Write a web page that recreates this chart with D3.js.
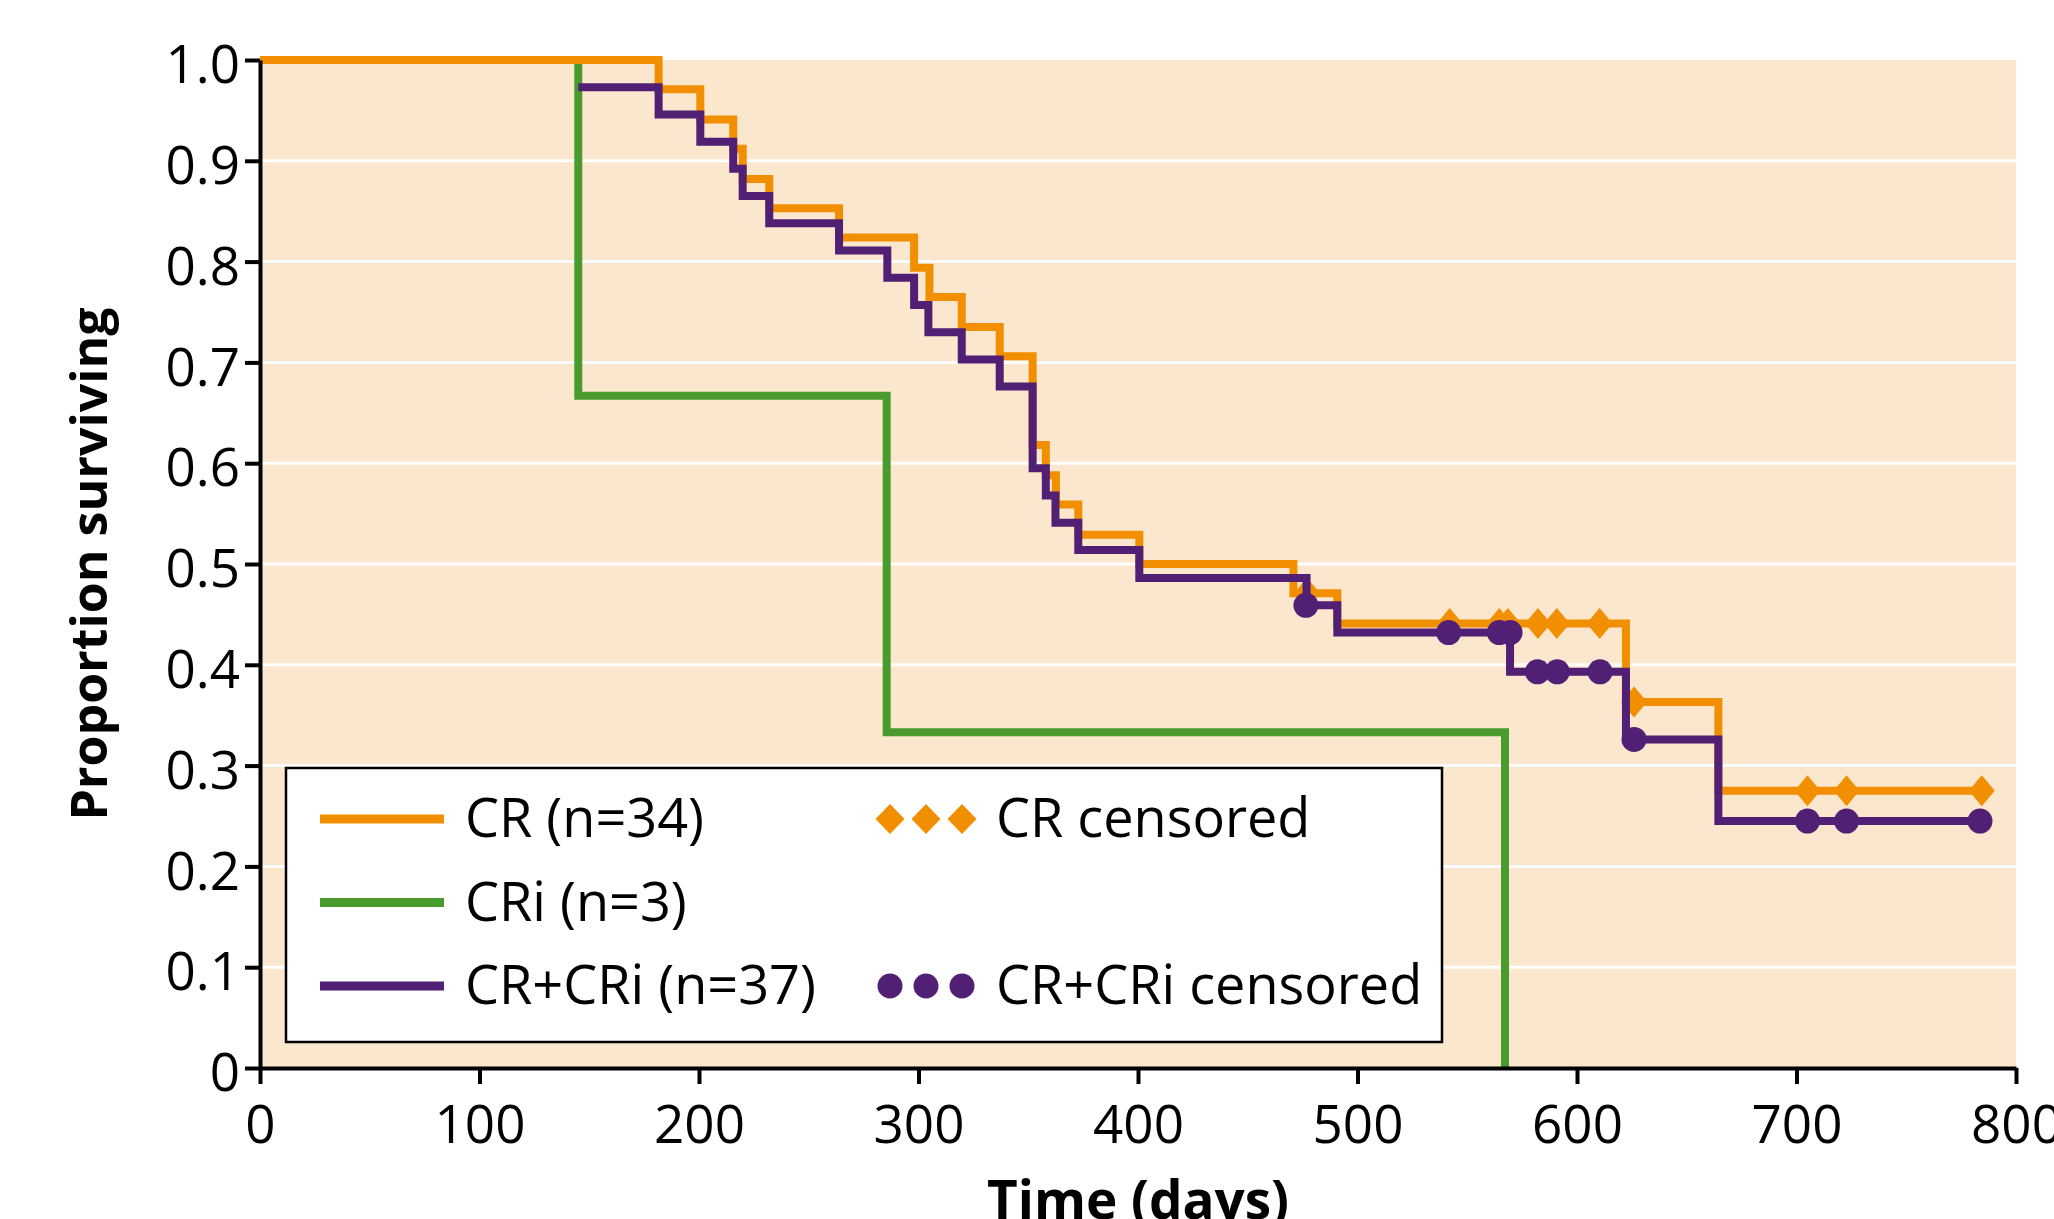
<!DOCTYPE html>
<html>
<head>
<meta charset="utf-8">
<script src="https://cdn.jsdelivr.net/npm/d3@7"></script>
<style>
  body { margin: 0; background: #fff; }
  svg { display: block; font-family: "Open Sans", sans-serif; }
</style>
</head>
<body>
<svg width="2054" height="1219"></svg>
<script>
// Kaplan-Meier steps: time (days) of each drop and the proportion after it.
// the last entry of each series is the end of follow-up (no drop)
var crTimes = [0, 181.6, 200.6, 215.6, 219.9, 232, 263.8, 298, 305, 319.7, 337, 352, 358, 362.6, 372.8, 400.6, 470.8, 490.8, 622.3, 664.4, 784.4];
var crSurv  = [1, 0.971, 0.941, 0.912, 0.882, 0.853, 0.824, 0.794, 0.765, 0.735, 0.706, 0.618, 0.588, 0.559, 0.529, 0.500, 0.471, 0.441, 0.363, 0.275, 0.275];

var criTimes = [0, 145, 285.5, 567.2, 567.2];
var criSurv  = [1, 0.667, 0.333, 0, 0];

// CR+CRi line only shows from its first drop on (it sits under CR at 1.0 before that)
var bothTimes = [145, 181.6, 200.6, 215.6, 219.9, 232, 263.8, 285.8, 298, 304.5, 319.7, 337, 352, 358, 362.4, 372.8, 400.6, 476.8, 490.8, 569.5, 622.3, 664.4, 784];
var bothSurv  = [0.973, 0.946, 0.919, 0.892, 0.865, 0.838, 0.811, 0.784, 0.757, 0.730, 0.703, 0.676, 0.595, 0.568, 0.541, 0.514, 0.486, 0.459, 0.432, 0.393, 0.326, 0.245, 0.245];

// censored observations
var crCensTimes = [477, 542, 564.6, 568.5, 582.2, 590.8, 610.3, 626, 705, 722.8, 784.4];
var crCensSurv  = [0.471, 0.441, 0.441, 0.441, 0.441, 0.441, 0.441, 0.363, 0.275, 0.275, 0.275];
var bothCensTimes = [476.5, 541.5, 564.6, 569.5, 582, 591, 610.5, 626, 705, 722.8, 783.6];
var bothCensSurv  = [0.459, 0.432, 0.432, 0.432, 0.393, 0.393, 0.393, 0.326, 0.245, 0.245, 0.245];

var xTicks = [0, 100, 200, 300, 400, 500, 600, 700, 800];
var yTicks = [0, 0.1, 0.2, 0.3, 0.4, 0.5, 0.6, 0.7, 0.8, 0.9, 1.0];

var lineLabels = ["CR (n=34)", "CRi (n=3)", "CR+CRi (n=37)"];
var censLabels = ["CR censored", "CR+CRi censored"];

var orange = "#f18f00", green = "#4a9b2e", purple = "#511f73";

var svg = d3.select("svg"),
    margin = {top: 60, right: 38, bottom: 151, left: 260},
    width = +svg.attr("width") - margin.left - margin.right,
    height = +svg.attr("height") - margin.top - margin.bottom,
    g = svg.append("g").attr("transform", "translate(" + margin.left + "," + margin.top + ")");

var x = d3.scaleLinear().domain([0, 800]).range([0, width]);
var y = d3.scaleLinear().domain([0, 1]).range([height, 0]);

// peach panel + white gridlines
g.append("rect")
    .attr("width", width)
    .attr("height", height)
    .attr("fill", "#fbe7cd");

g.append("g")
  .selectAll("line")
  .data(yTicks.filter(function(d) { return d > 0 && d < 1; }))
  .enter().append("line")
    .attr("x1", 0)
    .attr("x2", width)
    .attr("y1", y)
    .attr("y2", y)
    .attr("stroke", "#fff")
    .attr("stroke-width", 3);

var line = d3.line()
    .curve(d3.curveStepAfter)
    .x(function(d) { return x(d[0]); })
    .y(function(d) { return y(d[1]); });

function drawCurve(times, surv, color) {
  g.append("path")
      .datum(d3.zip(times, surv))
      .attr("fill", "none")
      .attr("stroke", color)
      .attr("stroke-width", 8)
      .attr("stroke-linejoin", "miter")
      .attr("d", line);
}

var diamond = "M0,-15.5L13,0L0,15.5L-13,0Z";

drawCurve(criTimes, criSurv, green);
drawCurve(crTimes, crSurv, orange);

g.append("g")
  .selectAll("path")
  .data(d3.zip(crCensTimes, crCensSurv))
  .enter().append("path")
    .attr("d", diamond)
    .attr("fill", orange)
    .attr("transform", function(d) { return "translate(" + x(d[0]) + "," + y(d[1]) + ")"; });

drawCurve(bothTimes, bothSurv, purple);

g.append("g")
  .selectAll("circle")
  .data(d3.zip(bothCensTimes, bothCensSurv))
  .enter().append("circle")
    .attr("cx", function(d) { return x(d[0]); })
    .attr("cy", function(d) { return y(d[1]); })
    .attr("r", 12.5)
    .attr("fill", purple);

// axes
var yAxis = g.append("g")
    .call(d3.axisLeft(y)
      .tickValues(yTicks)
      .tickSize(15)
      .tickSizeOuter(0)
      .tickPadding(5)
      .tickFormat(function(d) { return d === 0 ? "0" : d3.format(".1f")(d); }));

var xAxis = g.append("g")
    .attr("transform", "translate(0," + height + ")")
    .call(d3.axisBottom(x)
      .tickValues(xTicks)
      .tickSize(16)
      .tickSizeOuter(0)
      .tickPadding(21));

[xAxis, yAxis].forEach(function(a) {
  a.attr("font-family", null).attr("font-size", 53);
  a.select(".domain").attr("stroke", "#000").attr("stroke-width", 4);
  a.selectAll(".tick line").attr("stroke", "#000").attr("stroke-width", 4);
  a.selectAll(".tick text").attr("fill", "#000");
});
yAxis.selectAll(".tick text").attr("dy", "0.43em");

// axis titles
svg.append("text")
    .attr("transform", "translate(107," + (margin.top + height / 2) + ") rotate(-90)")
    .attr("text-anchor", "middle")
    .attr("font-weight", "bold")
    .attr("font-size", 50)
    .text("Proportion surviving");

svg.append("text")
    .attr("x", margin.left + width / 2)
    .attr("y", 1219)
    .attr("text-anchor", "middle")
    .attr("font-weight", "bold")
    .attr("font-size", 53)
    .text("Time (days)");

// legend
var legend = svg.append("g")
    .attr("transform", "translate(286,768)")
    .attr("font-size", 54);

legend.append("rect")
    .attr("width", 1156)
    .attr("height", 274)
    .attr("fill", "#fff")
    .attr("stroke", "#000")
    .attr("stroke-width", 2.5);

var rows = legend.selectAll(".row")
    .data(d3.zip(lineLabels, [orange, green, purple]))
    .enter().append("g")
      .attr("class", "row")
      .attr("transform", function(d, i) { return "translate(0," + (51 + i * 83.5) + ")"; });

rows.append("line")
    .attr("x1", 34)
    .attr("x2", 158)
    .attr("stroke", function(d) { return d[1]; })
    .attr("stroke-width", 9);

rows.append("text")
    .attr("x", 179)
    .attr("dy", 18)
    .text(function(d) { return d[0]; });

var cens = legend.selectAll(".cens")
    .data(d3.zip(censLabels, [orange, purple]))
    .enter().append("g")
      .attr("class", "cens")
      .attr("transform", function(d, i) { return "translate(0," + (51 + i * 167) + ")"; });

cens.each(function(d, i) {
  var el = d3.select(this);
  [604, 640, 676].forEach(function(cx) {
    if (i === 0) {
      el.append("path")
          .attr("d", "M0,-15L14.5,0L0,15L-14.5,0Z")
          .attr("transform", "translate(" + cx + ",0)")
          .attr("fill", d[1]);
    } else {
      el.append("circle")
          .attr("cx", cx)
          .attr("r", 12.5)
          .attr("fill", d[1]);
    }
  });
});

cens.append("text")
    .attr("x", 710)
    .attr("dy", 18)
    .text(function(d) { return d[0]; });
</script>
</body>
</html>
